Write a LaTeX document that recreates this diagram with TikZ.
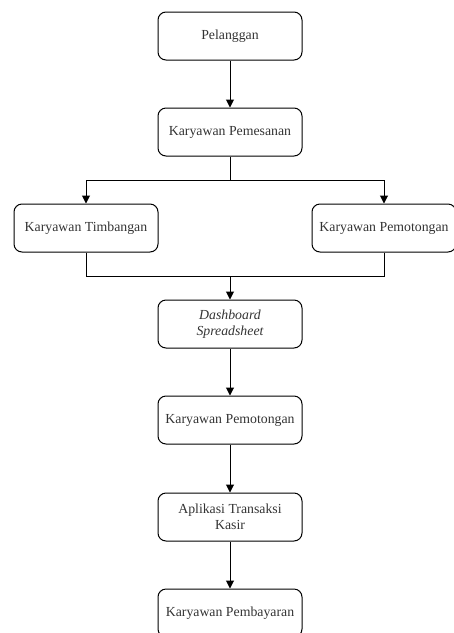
\documentclass[tikz,border=0pt]{standalone}
\usepackage{fontspec}
\setmainfont{Liberation Serif}
\usetikzlibrary{arrows.meta,positioning}

\begin{document}
\begin{tikzpicture}[x=1pt, y=-1pt,
  every node/.style={font=\fontsize{13.8}{16.5}\selectfont, text=black!80},
  stepbox/.style={rectangle, draw, line width=1pt, rounded corners=8pt,
    minimum width=144pt, minimum height=48pt, inner sep=2pt, align=center},
  link/.style={line width=1pt},
  arr/.style={link, -{Triangle[length=8pt, width=8pt]}}
]
\useasboundingbox (0,0) rectangle (454,633);
\clip (0,0) rectangle (454,633);

%========== top ==========
\node[stepbox] (pelanggan) at (230, 36) {Pelanggan};
\node[stepbox] (pesan) at (230, 132) {Karyawan Pemesanan};

%========== branch ==========
\node[stepbox] (timbang) at (86, 228) {Karyawan Timbangan};
\node[stepbox] (potong) at (384, 228) {Karyawan Pemotongan};
\coordinate (split) at (230, 180);
\coordinate (merge) at (230, 276);

%========== bottom chain ==========
\node[stepbox] (dash) at (230, 324) {\itshape Dashboard\\\itshape Spreadsheet};
\node[stepbox] (potong2) at (230, 420) {Karyawan Pemotongan};
\node[stepbox] (kasir) at (230, 517) {Aplikasi Transaksi\\Kasir};
\node[stepbox] (bayar) at (230, 613) {Karyawan Pembayaran};

%========== connectors ==========
\draw[arr] (pelanggan) -- (pesan);
\draw[link] (pesan) -- (split);
\draw[arr] (split) -| (timbang);
\draw[arr] (split) -| (potong);
\draw[link] (timbang) |- (merge);
\draw[link] (potong) |- (merge);
\draw[arr] (merge) -- (dash);
\draw[arr] (dash) -- (potong2);
\draw[arr] (potong2) -- (kasir);
\draw[arr] (kasir) -- (bayar);

\end{tikzpicture}
\end{document}
